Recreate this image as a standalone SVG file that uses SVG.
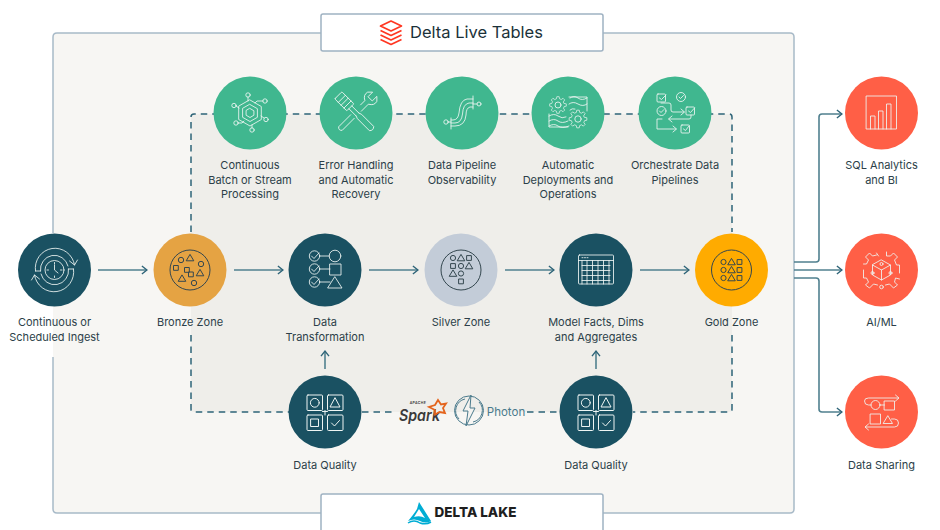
<svg xmlns="http://www.w3.org/2000/svg" xmlns:xlink="http://www.w3.org/1999/xlink" width="940" height="530" viewBox="0 0 940 530">
<style>
text{font-family:"Inter","Liberation Sans",sans-serif;font-size:11px;fill:#2c3f49;text-anchor:middle}
.ln{fill:none;stroke:#eef5f3;stroke-width:1;stroke-linecap:round;stroke-linejoin:round}
.dk{fill:none;stroke:#34474f;stroke-width:1;stroke-linejoin:round}
.thin{stroke-width:.85}
.cn{fill:none;stroke:#50808f;stroke-width:1.6;stroke-linejoin:round}
.dash{fill:none;stroke:#2e6478;stroke-width:1.5;stroke-dasharray:6.5 5}
.box{fill:#fff;stroke:#9fb2c2;stroke-width:1.5}
.teal{fill:#1a5162}.green{fill:#40b78f}.red{fill:#ff5f46}
</style>
<defs>
<marker id="arr" viewBox="0 0 8 10" refX="6.6" refY="5" markerWidth="8" markerHeight="10" markerUnits="userSpaceOnUse" orient="auto"><path d="M1.5 1 L6.5 5 L1.5 9" fill="none" stroke="#2e6478" stroke-width="1.4"/></marker>
<polygon id="gear" points="7.76,-1.94 10.4,-1.46 10.4,1.46 7.76,1.94 6.86,4.11 8.38,6.32 6.32,8.38 4.11,6.86 1.94,7.76 1.46,10.4 -1.46,10.4 -1.94,7.76 -4.11,6.86 -6.32,8.38 -8.38,6.32 -6.86,4.11 -7.76,1.94 -10.4,1.46 -10.4,-1.46 -7.76,-1.94 -6.86,-4.11 -8.38,-6.32 -6.32,-8.38 -4.11,-6.86 -1.94,-7.76 -1.46,-10.4 1.46,-10.4 1.94,-7.76 4.11,-6.86 6.32,-8.38 8.38,-6.32 6.86,-4.11"/>
<g id="dq" class="ln">
<rect x="-18" y="-17" width="15.5" height="15.5" rx="1"/><rect x="2.500" y="-17" width="15.500" height="15.500" rx="1"/><rect x="-18" y="3" width="15.500" height="15.500" rx="1"/><rect x="2.500" y="3" width="15.500" height="15.500" rx="1"/>
<circle cx="-10.200" cy="-9.200" r="4.400"/><path d="M10.200 -14 L15 -5 H5.400 Z"/><rect x="-14" y="7" width="7.500" height="7.500"/><path d="M6.500 11 L9.500 14 L14.500 8.500"/><path d="M-2.500 -.5 H2.500 M0 -1.500 V3"/>
</g>
<path id="tri" d="M0 -3.600 L3.800 2.800 H-3.800 Z"/>
</defs>

<g id="background">
<rect x="53" y="33" width="741" height="480" rx="4" fill="#f7f6f3"/>
<path d="M53 233 V37 Q53 33 57 33 H790 Q794 33 794 37 V509 Q794 513 790 513 H57 Q53 513 53 509 V357" fill="none" stroke="#a8bac8" stroke-width="1.500"/>
<rect x="191" y="114" width="541" height="298" rx="3" fill="#efeeea"/>
</g>

<g id="connectors">
<path class="dash" d="M191 232 V117 Q191 114 194 114 H729 Q732 114 732 117 V232"/>
<path class="dash" d="M191 335 V409 Q191 412 194 412 H290"/>
<path class="dash" d="M732 335 V409 Q732 412 729 412 H633"/>
<path class="dash" d="M362 412 H396 M527 412 H560"/>
<g marker-end="url(#arr)" class="cn">
<path d="M98 270 H147"/><path d="M234 270 H283"/><path d="M369 270 H418"/><path d="M505 270 H554"/><path d="M640 270 H689"/>
<path d="M325 369 V351"/><path d="M596 369 V351"/>
<path d="M794 270 H842"/>
<path d="M794 262 H816 Q819 262 819 259 V117 Q819 114 822 114 H842"/>
<path d="M794 278 H816 Q819 278 819 281 V409 Q819 412 822 412 H842"/>
</g>
</g>

<g id="title-dlt">
<rect class="box" x="321" y="14" width="282" height="37" rx="2"/>
<g fill="none" stroke="#ff3621" stroke-width="1.700" stroke-linejoin="round">
<path d="M391 21 L401.500 26 L391 31 L380.500 26 Z"/><path d="M380.500 30.500 L391 35.500 L401.500 30.500"/><path d="M380.500 35 L391 40 L401.500 35"/><path d="M380.500 39.500 L391 44.500 L401.500 39.500"/>
</g>
<text x="476.500" y="38" style="font-size:16.500px;fill:#1b3139">Delta Live Tables</text>
</g>

<g id="title-lake">
<path class="box" d="M321 530 V496 Q321 494 323 494 H601 Q603 494 603 496 V530"/>
<path d="M419 502 L431 521 Q426 524 420 521 Q414 518 408 521 Q414 514 417 509 Z M419 509 L414 517 Q420 515 425 518 Z" fill="#00add4" fill-rule="evenodd"/>
<path d="M408 523 Q414 519 420 523 Q426 525 431 522" fill="none" stroke="#00add4" stroke-width="1.500"/>
<text x="475.500" y="517" style="font-size:13.500px;font-weight:800;fill:#1e1e1e">DELTA LAKE</text>
</g>

<g id="tech">
<text x="418" y="404" style="font-size:3.500px;font-weight:600;fill:#333;letter-spacing:.4px">APACHE</text>
<text x="419.500" y="420.500" style="font-size:15.500px;font-weight:600;font-style:italic;fill:#3b3a3a" textLength="41" lengthAdjust="spacingAndGlyphs">Spark</text>
<path d="M438 400 L441 404.500 L446 403.500 L443 408 L445 413 L439.500 412 L435 414.500 L435 410 L429 407 L435 405 Z" fill="none" stroke="#e4641c" stroke-width="1.800"/>
<g fill="none" stroke="#4a7a8c" stroke-width="1">
<circle cx="469" cy="410.500" r="14.500"/><path d="M459 419 A12 12 0 0 1 465 399 M479 402 A12 12 0 0 1 473 422"/>
<path d="M471 395 L463 411 H468 L466 426 L475 408 H470 Z" stroke-linejoin="round" fill="#f4f3f0"/>
</g>
<text x="506" y="416" style="font-size:11.500px;fill:#4a7a8c">Photon</text>
</g>

<g id="n-continuous" transform="translate(250 113)">
<circle class="green" r="36.500"/>
<g class="ln thin">
<path d="M0 -13 L11.300 -6.500 V6.500 L0 13 L-11.300 6.500 V-6.500 Z M0 -8.500 L7.400 -4.300 V4.300 L0 8.500 L-7.400 4.300 V-4.300 Z M0 -4.500 L3.900 -2.200 V2.200 L0 4.500 L-3.900 2.200 V-2.200 Z"/>
<path d="M-2 -16 V-12 M13 -12 H7 L5 -10 M-14 -7 L-11 -5 M14 5 L11 3 M-12 10 H-8 L-6 8 M2 15 V12"/>
<circle cx="-2" cy="-18" r="2.200"/><circle cx="15" cy="-12" r="2.200"/><circle cx="-16" cy="-7.500" r="2.200"/><circle cx="16" cy="6.500" r="2.200"/><circle cx="-14" cy="10" r="2.200"/><circle cx="2" cy="17" r="2.200"/>
</g>
<text y="56">Continuous</text><text y="70.500">Batch or Stream</text><text y="85">Processing</text>
</g>

<g id="n-error" transform="translate(356 113)">
<circle class="green" r="36.500"/>
<g class="ln thin">
<g transform="rotate(-45)"><rect x="-5" y="-25" width="10" height="17" rx="1"/><path d="M-5 -20 H5 M-5 -16 H5 M-5 -12 H5 M-2 -8 V2 M2 -8 V2 M-2 2 L-3 5 V22 Q0 25 3 22 V5 L2 2"/></g>
<g transform="rotate(45)"><path d="M-2.500 -9 V-15 Q-8 -18 -6.500 -23 L-3 -26.500 V-20 L3 -20 V-26.500 L6.500 -23 Q8 -18 2.500 -15 V-5 M-2.500 5 V22 Q0 25 2.500 22 V5"/></g>
</g>
<text y="56">Error Handling</text><text y="70.500">and Automatic</text><text y="85">Recovery</text>
</g>

<g id="n-observability" transform="translate(462 113)">
<circle class="green" r="36.500"/>
<g class="ln thin">
<path d="M-11 7 H-9 Q-4 7 -3 0 Q-2 -13 5 -14 H11 M-11 10 H-7 Q-.5 10 .5 1 Q1 -9 7 -10 H11 M-11 13 H-7 Q3 13 4 2 Q4 -5 8 -6 H11"/>
<path d="M11 -17 V-4 M-11 5 V16 M11 -9 H15 M-11 9 H-14"/>
<circle cx="17" cy="-9" r="2"/><circle cx="-16" cy="9" r="2.200"/>
</g>
<text y="56">Data Pipeline</text><text y="70.500">Observability</text>
</g>

<g id="n-deployments" transform="translate(568 113)">
<circle class="green" r="36.500"/>
<g class="ln thin">
<use href="#gear" transform="translate(-10 -8) scale(.8)"/><circle cx="-10" cy="-8" r="3"/>
<use href="#gear" transform="translate(10 6) scale(.85)"/><circle cx="10" cy="6" r="3.200"/>
<path d="M1 -16 H19 V-2 M-19 1 V14 H0 M2 -15 Q6 -18 10 -15 T19 -15 M1 -9 Q5 -12 10 -9 T19 -9 M2 -3 Q4 -5 7 -4 M-19 3 Q-14 0 -10 3 T-2 4 M-19 8 Q-14 5 -10 8 T0 8 M-19 13 Q-14 10 -10 13 T1 13"/>
</g>
<text y="56">Automatic</text><text y="70.500">Deployments and</text><text y="85">Operations</text>
</g>

<g id="n-orchestrate" transform="translate(675 113)">
<circle class="green" r="36.500"/>
<g class="ln thin">
<rect x="-18" y="-19" width="8.500" height="8" rx="1"/><path d="M-15.500 -15 L-13.500 -13.500 L-9 -18"/>
<circle cx="6" cy="-16" r="4.500"/><path d="M4 -16 L5.500 -14.500 L8.500 -17.500"/>
<circle cx="-13.500" cy="-2" r="4.500"/><path d="M-15.500 -2 L-14 -.5 L-11 -3.500"/>
<path d="M-14 -10 H-6 Q-4 -10 -4 -8 V-3 Q-4 -1 -2 -1 H9 M6 -4 L9.500 -1 L6 2"/>
<rect x="11" y="-6" width="8.500" height="8" rx="1"/><path d="M13.500 -2 L15.500 -.5 L19.500 -5"/>
<path d="M16 2 V4 Q16 6 14 6 H-6 M-3 3 L-6.500 6 L-3 9"/>
<path d="M-13 6 H-18 V16 H1 M-2 13 L1.500 16 L-2 19"/>
<rect x="6" y="12" width="8.500" height="8" rx="1"/><path d="M8.500 16 L10.500 17.500 L14 13"/>
</g>
<text y="56">Orchestrate Data</text><text y="70.500">Pipelines</text>
</g>

<g id="n-ingest" transform="translate(54.500 270)">
<circle class="teal" r="36.500"/>
<g class="ln thin">
<circle r="9.500"/><path d="M0 -5 V0 L3.500 3 M-7.500 0 H-6 M7.500 0 H6 M0 7.500 V6 M0 -7.500 V-6"/>
<path d="M-19 1 A19.500 19.500 0 0 1 20 -5 M-14 1 A14 14 0 0 1 13.500 -4 M-14 1 H-19"/>
<path d="M15 -9 L20 -5 L23 -10"/>
<path d="M19 -1 A19.500 19.500 0 0 1 -20 5 M14 -1 A14 14 0 0 1 -13.500 4 M14 -1 H19"/>
<path d="M-15 9 L-20 5 L-23 10"/>
</g>
<text y="56">Continuous or</text><text y="70.500">Scheduled Ingest</text>
</g>

<g id="n-bronze" transform="translate(190 270)">
<circle r="36.500" fill="#e5a343"/>
<g class="dk">
<circle r="20"/>
<circle cx="-9" cy="-10" r="2.700"/><use href="#tri" x="0" y="-12"/><circle cx="11" cy="-6" r="2.700"/>
<rect x="-16.500" y="-4.500" width="4.800" height="4.800"/><rect x="-5.500" y="-2.500" width="4.800" height="4.800"/><rect x="-1.500" y="2" width="4.800" height="4.800"/>
<use href="#tri" x="10" y="3"/><use href="#tri" x="-8" y="8.500"/><circle cx="4" cy="13" r="2.700"/>
</g>
<text y="56">Bronze Zone</text>
</g>

<g id="n-transform" transform="translate(325 270)">
<circle class="teal" r="36.500"/>
<g class="ln thin">
<circle cx="-10.500" cy="-14" r="5.200"/><path d="M-13.500 -14 L-11 -11.500 L-6 -17"/>
<circle cx="-10.500" cy="-1" r="5.200"/><path d="M-13.500 -1 L-11 1.500 L-6 -4"/>
<circle cx="-10.500" cy="12" r="5.200"/><path d="M-13.500 12 L-11 14.500 L-6 9"/>
<path d="M-5.300 -14 H4.200 M-5.300 -1 H5 M-5.300 12 H5"/>
<circle cx="10" cy="-14" r="5.800"/><rect x="5" y="-6" width="11" height="11"/><path d="M10 7 L17 18 H3 Z"/>
</g>
<text y="56">Data</text><text y="70.500">Transformation</text>
</g>

<g id="n-silver" transform="translate(461 270)">
<circle r="36.500" fill="#c3ccd8"/>
<g class="dk">
<circle r="20"/>
<circle cx="-8" cy="-12" r="2.600"/><use href="#tri" y="-12"/><rect x="5.600" y="-14.400" width="4.800" height="4.800"/>
<rect x="-10.400" y="-6.400" width="4.800" height="4.800"/><circle cy="-4" r="2.600"/><use href="#tri" x="8" y="-4"/>
<use href="#tri" x="-8" y="3.500"/><circle cy="3.500" r="2.600"/>
<rect x="-2.400" y="9" width="4.800" height="4.800"/>
</g>
<text y="56">Silver Zone</text>
</g>

<g id="n-model" transform="translate(596 270)">
<circle class="teal" r="36.500"/>
<g class="ln thin">
<rect x="-17.500" y="-15" width="35" height="29" rx="1"/><path d="M-17.500 -9.500 H17.500 M-14 -4.500 H14 M-14 .5 H14 M-14 5.500 H14 M-14 10.500 H14 M-14 -9.500 V14 M-9 -9.500 V14 M-3.500 -9.500 V14 M2 -9.500 V14 M7.500 -9.500 V14 M13 -9.500 V14 M-14 -12.300 H-13 M-11.500 -12.300 H-10.500 M-9 -12.300 H-8"/>
</g>
<text y="56">Model Facts, Dims</text><text y="70.500">and Aggregates</text>
</g>

<g id="n-gold" transform="translate(731.500 270)">
<circle r="36.500" fill="#ffab00"/>
<g class="dk">
<circle r="20"/>
<circle cx="-8" cy="-8" r="2.600"/><use href="#tri" y="-8"/><rect x="5.600" y="-10.400" width="4.800" height="4.800"/>
<circle cx="-8" r="2.600"/><use href="#tri"/><rect x="5.600" y="-2.400" width="4.800" height="4.800"/>
<circle cx="-8" cy="8" r="2.600"/><use href="#tri" y="8"/><rect x="5.600" y="5.600" width="4.800" height="4.800"/>
</g>
<text y="56">Gold Zone</text>
</g>

<g id="n-dq1" transform="translate(325 412)">
<circle class="teal" r="36.500"/><use href="#dq"/>
<text y="56.500">Data Quality</text>
</g>
<g id="n-dq2" transform="translate(596 412)">
<circle class="teal" r="36.500"/><use href="#dq"/>
<text y="56.500">Data Quality</text>
</g>

<g id="n-sql" transform="translate(881.500 113)">
<circle class="red" r="36.500"/>
<g class="ln thin" stroke-linejoin="miter">
<path d="M-15 -17 H15 V16 H-15 Z"/>
<path d="M-11 16 V3 H-6.500 V16 M-3 16 V-2 H1.500 V16 M5 16 V-9 H9.500 V16"/>
</g>
<text y="56">SQL Analytics</text><text y="70.500">and BI</text>
</g>

<g id="n-aiml" transform="translate(881.500 270)">
<circle class="red" r="36.500"/>
<g class="ln thin">
<path d="M-5 -17 L-3 -14 M5 -18 V-14 H9 L12 -17 L16 -13 L13 -10 L15 -5 H18 V3 M18 9 L14 8 L13 12 L16 15 L12 18 L8 14 L4 15 M-4 15 L-8 14 L-12 18 L-16 15 L-13 12 L-15 8 H-18 V0 M-18 -6 H-15 L-13 -10 L-16 -13 L-12 -17 L-9 -14 L-5 -15"/>
<path d="M0 -10 L9 -5 V5 L0 10 L-9 5 V-5 Z M-9 -5 L0 0 L9 -5 M0 0 V10"/>
<circle cx="-9" cy="3" r="1.500"/><circle cx="9" cy="3" r="1.500"/><circle cy="-6" r="1.500"/><circle cy="17" r="1.800"/>
</g>
<text y="56">AI/ML</text>
</g>

<g id="n-sharing" transform="translate(881.500 412)">
<circle class="red" r="36.500"/>
<g class="ln thin">
<path d="M-10.500 -7 H-13 Q-17 -7 -17 -11 Q-17 -14 -13 -14 H17 M14 -17 L17.500 -14 L14 -11"/>
<circle cx="-6" cy="-7" r="4.500"/><rect x="3" y="-11" width="10" height="9"/><path d="M-1.500 -7 H3"/>
<rect x="-11" y="2" width="10" height="10"/><path d="M6.500 4 L11 11.500 H2 Z"/>
<path d="M10 7 H13 Q17 7 17 11 Q17 15 13 15 H-16 M-13 12 L-16.500 15 L-13 18"/>
</g>
<text y="56.500">Data Sharing</text>
</g>
</svg>
